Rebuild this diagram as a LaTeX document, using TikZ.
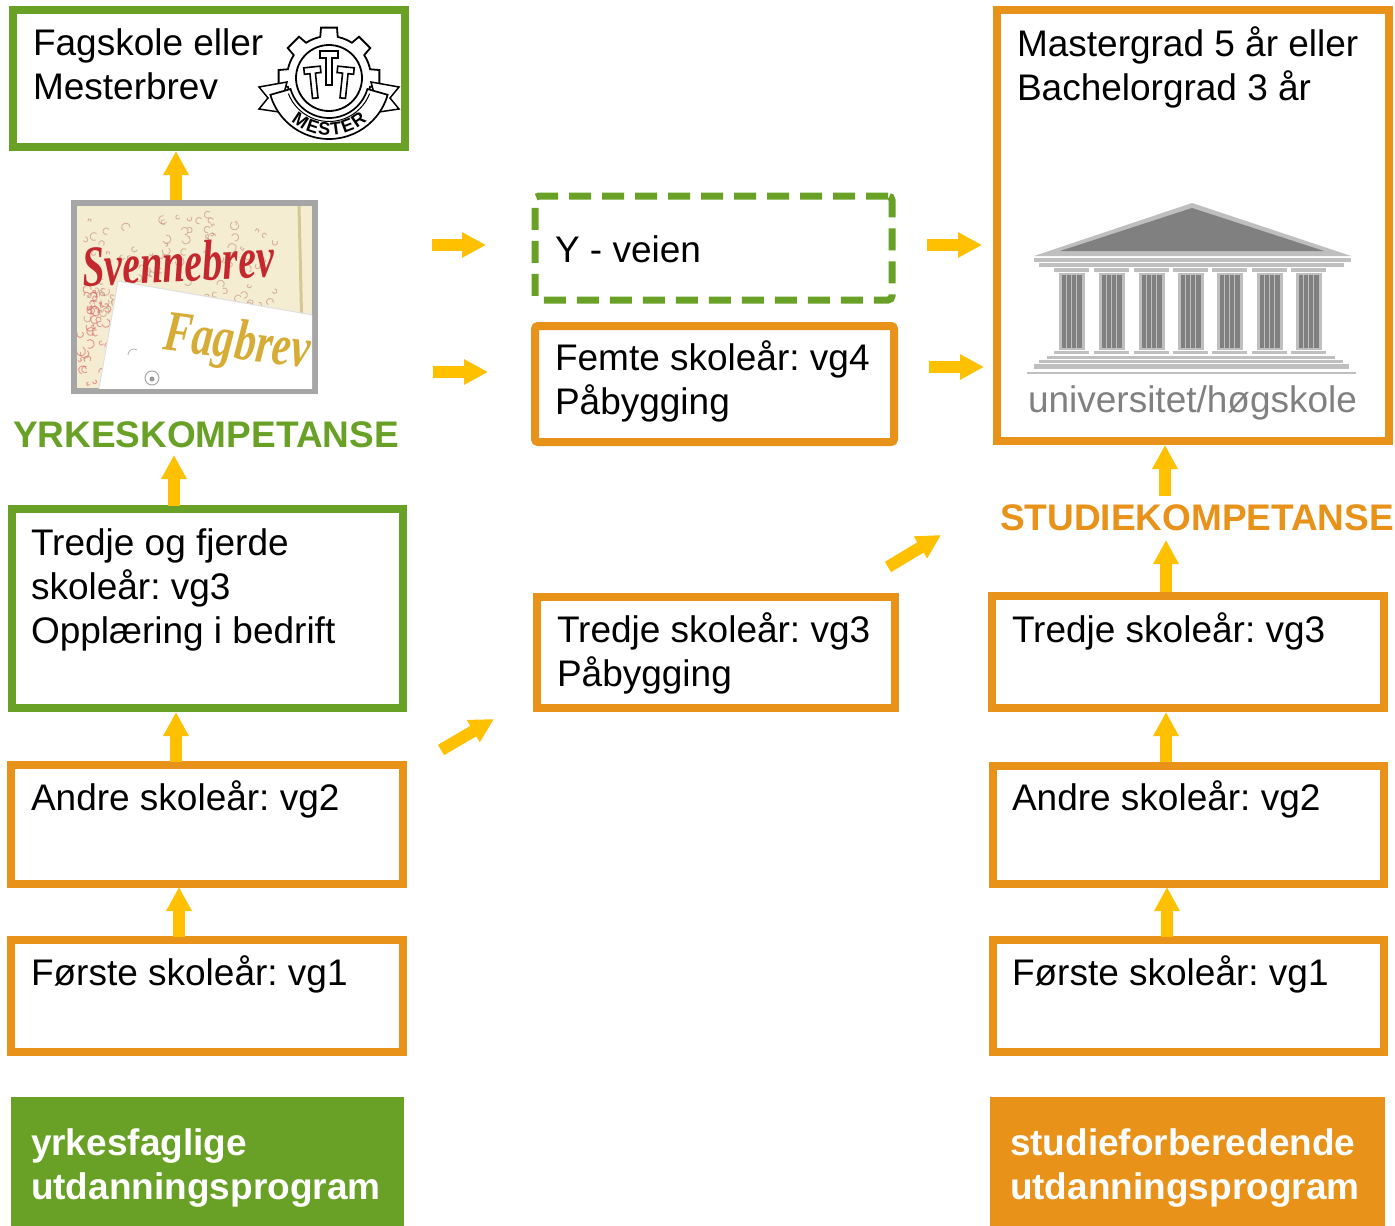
\documentclass[tikz,border=0pt]{standalone}
\usepackage{fontspec}
\setmainfont{Liberation Sans}
\newfontfamily\frakfont{Liberation Serif}
\usepackage{graphicx}
\usetikzlibrary{arrows.meta,decorations.text}
\definecolor{grn}{HTML}{68A126}
\definecolor{org}{HTML}{E8921A}
\definecolor{arrc}{HTML}{FFC000}
\definecolor{gryb}{HTML}{A6A6A6}
\definecolor{lgr}{HTML}{BFBFBF}
\definecolor{dgr}{HTML}{808080}
\definecolor{cream}{HTML}{F5EDD2}
\definecolor{svred}{HTML}{C4272C}
\definecolor{gold}{HTML}{D6AC34}
\definecolor{scroll}{HTML}{C08A7C}
\newcommand\mfont{\fontsize{18}{18}\selectfont\bfseries}
\newcommand\hammer{\draw[line width=1.6pt, fill=white] (-9,0) -- (9,0) -- (9,-7) -- (3,-7) -- (3,-34) -- (-3,-34) -- (-3,-7) -- (-9,-7) -- cycle;}
\frenchspacing
\begin{document}
\begin{tikzpicture}[x=1pt,y=-1pt,
  every node/.style={font=\fontsize{37}{44}\selectfont, inner sep=0pt, outer sep=0pt},
  gbox/.style={draw=grn, line width=8pt, anchor=north west, fill=white},
  obox/.style={draw=org, line width=8pt, anchor=north west, fill=white},
  txt/.style={anchor=base west, align=left},
  head/.style={anchor=base west, font=\fontsize{37}{44}\selectfont\bfseries},
  arr/.style={draw=arrc, line width=12pt, -{Triangle[length=24pt,width=24pt]}}]
\useasboundingbox (0,0) rectangle (1395,1226);
\fill[white] (0,0) rectangle (1395,1226);

% ---------- left column ----------
\node[gbox, minimum width=392pt, minimum height=137pt] (fag) at (13,10) {};
\node[txt] (fagT) at (33,99) {Fagskole eller\\Mesterbrev};

% Mester logo
\begin{scope}[shift={(329,78)}, y=1pt]
  \draw[line width=1.8pt, fill=white] (78:42)
    \foreach \a in {90,135,...,405} { -- (\a-9:51) -- (\a+9:51) -- (\a+12:42) arc[start angle=\a+12, end angle=\a+33, radius=42] } -- cycle;
  \draw[line width=1.8pt] (0,0) circle[radius=33];
  \begin{scope}[shift={(0,27)}] \hammer \end{scope}
  \begin{scope}[shift={(-17,11)}, rotate=6, scale=0.92] \hammer \end{scope}
  \begin{scope}[shift={(17,11)}, rotate=-6, scale=0.92] \hammer \end{scope}
  \draw[line width=1.5pt, fill=white] (-42,-4) -- (-70,-9) -- (-61,-20) -- (-70,-31) -- (-50,-34) -- cycle;
  \draw[line width=1.5pt, fill=white] (42,-4) -- (70,-9) -- (61,-20) -- (70,-31) -- (50,-34) -- cycle;
  \draw[line width=1.7pt, fill=white] (196:40) arc[start angle=196, end angle=344, radius=40] -- (344:61) arc[start angle=344, end angle=196, radius=61] -- cycle;
  \draw[line width=1pt] (201:43.5) arc[start angle=201, end angle=339, radius=43.5];
  \path[decorate, decoration={text along path, text align=center, raise=-6.5pt, text={|\mfont|MESTER}}] (198:51) arc[start angle=198, end angle=342, radius=51];
\end{scope}

% Svennebrev / Fagbrev picture
\node[draw=gryb, line width=6pt, anchor=north west, minimum width=241pt, minimum height=188pt] (sven) at (74,203) {};
\begin{scope}
  \clip (77,206) rectangle (312,388);
  \fill[cream] (77,206) rectangle (312,388);
  \draw[color={rgb,255:red,214;green,198;blue,150}, line width=3pt] (299,206) -- (302,335);
  \pgfmathsetseed{7}
  \foreach \i in {1,...,120}{
    \pgfmathsetmacro\xa{84+196*rnd}
    \pgfmathsetmacro\ya{216+110*rnd}
    \pgfmathsetmacro\ra{1.5+3*rnd}
    \pgfmathsetmacro\sa{360*rnd}
    \draw[scroll, line width=0.9pt, opacity=0.6] (\xa,\ya) arc[start angle=\sa, delta angle=250, radius=\ra];
  }
  \foreach \i in {1,...,40}{
    \pgfmathsetmacro\xa{80+30*rnd}
    \pgfmathsetmacro\ya{290+95*rnd}
    \pgfmathsetmacro\ra{1.5+3*rnd}
    \pgfmathsetmacro\sa{360*rnd}
    \draw[svred!70, line width=1pt, opacity=0.6] (\xa,\ya) arc[start angle=\sa, delta angle=250, radius=\ra];
  }
  \node[text=svred, rotate=3] (svT) at (178,262) {\resizebox{192pt}{40pt}{\frakfont\bfseries\itshape Svennebrev}};
  \fill[white] (118,281) -- (330,318) -- (330,400) -- (97,400) -- cycle;
  \draw[gray!25, line width=1pt] (118,281) -- (330,318);
  \draw[gray!25, line width=1pt] (118,281) -- (97,400);
  \node[text=gold, rotate=-7] (fgT) at (237,345) {\resizebox{146pt}{40pt}{\frakfont\bfseries\itshape Fagbrev}};
  \draw[gray!70, line width=1pt] (152,378) circle[radius=7];
  \fill[gray!80] (152,379) circle[radius=2.5];
  \draw[gray!60, line width=0.8pt] (128,355) arc[start angle=180, end angle=300, radius=6];
\end{scope}

\node[head, text=grn] (yrk) at (13,447) {YRKESKOMPETANSE};

\node[gbox, minimum width=391pt, minimum height=199pt] (tfj) at (12,509) {};
\node[txt] (tfjT) at (31,643) {Tredje og fjerde\\skoleår: vg3\\Opplæring i bedrift};

\node[obox, minimum width=392pt, minimum height=119pt] (andreL) at (11,765) {};
\node[txt] (andreLT) at (31,810) {Andre skoleår: vg2};

\node[obox, minimum width=392pt, minimum height=112pt] (forsteL) at (11,940) {};
\node[txt] (forsteLT) at (31,985) {Første skoleår: vg1};

\node[fill=grn, anchor=north west, minimum width=393pt, minimum height=129pt] (yrkB) at (11,1097) {};
\node[txt, text=white, font=\fontsize{37}{44}\selectfont\bfseries] (yrkBT) at (31,1199) {yrkesfaglige\\utdanningsprogram};

% ---------- middle column ----------
\node[draw=grn, line width=7pt, dash pattern=on 22pt off 11pt, rounded corners=4pt, anchor=north west, minimum width=357pt, minimum height=104pt] (yvei) at (535,196) {};
\node[txt] (yveiT) at (555,262) {Y - veien};

\node[obox, rounded corners=3pt, minimum width=359pt, minimum height=116pt] (femte) at (535,326) {};
\node[txt] (femteT) at (555,414) {Femte skoleår: vg4\\Påbygging};

\node[obox, minimum width=358pt, minimum height=111pt] (tredjeM) at (537,597) {};
\node[txt] (tredjeMT) at (557,686) {Tredje skoleår: vg3\\Påbygging};

% ---------- right column ----------
\node[obox, minimum width=392pt, minimum height=431pt] (master) at (997,10) {};
\node[txt] (masterT) at (1017,100) {Mastergrad 5 år eller\\Bachelorgrad 3 år};

% university building
\fill[lgr] (1034,256) -- (1192,203) -- (1351,256) -- cycle;
\fill[dgr] (1060,251) -- (1192,208) -- (1324,251) -- cycle;
\fill[lgr] (1034,258) rectangle (1351,261.5);
\fill[lgr] (1039,263) rectangle (1344,267);
\foreach \c in {1071.5,1111.5,1151.5,1190.5,1229.5,1269.5,1308.5}{
  \fill[lgr] (\c-17.5,268) rectangle (\c+17.5,272);
  \fill[lgr] (\c-13,273) rectangle (\c+13,350);
  \fill[dgr] (\c-10,275) rectangle (\c+10,348);
  \draw[lgr, line width=1.3pt] (\c-5,275) -- (\c-5,348) (\c,275) -- (\c,348) (\c+5,275) -- (\c+5,348);
  \fill[lgr] (\c-17.5,351) rectangle (\c+17.5,354);
}
\fill[lgr] (1047,356) rectangle (1335,358.5);
\fill[lgr] (1039,359.5) rectangle (1343,363);
\fill[lgr] (1034,364) rectangle (1349,369);
\fill[lgr] (1027,372) rectangle (1356,374);
\node[txt, text=dgr] (uniT) at (1028,412) {universitet/høgskole};

\node[head, text=org] (stud) at (1000,530) {STUDIEKOMPETANSE};

\node[obox, minimum width=392pt, minimum height=112pt] (tredjeR) at (992,596) {};
\node[txt] (tredjeRT) at (1012,642) {Tredje skoleår: vg3};

\node[obox, minimum width=391pt, minimum height=118pt] (andreR) at (993,766) {};
\node[txt] (andreRT) at (1012,810) {Andre skoleår: vg2};

\node[obox, minimum width=391pt, minimum height=112pt] (forsteR) at (993,940) {};
\node[txt] (forsteRT) at (1012,985) {Første skoleår: vg1};

\node[fill=org, anchor=north west, minimum width=395pt, minimum height=129pt] (studB) at (990,1097) {};
\node[txt, text=white, font=\fontsize{37}{44}\selectfont\bfseries] (studBT) at (1010,1199) {studieforberedende\\utdanningsprogram};

% ---------- arrows ----------
\coordinate (v1s) at (176,200); \coordinate (v1e) at (176,151);
\coordinate (v2s) at (174,506); \coordinate (v2e) at (174,455);
\coordinate (v3s) at (176,762); \coordinate (v3e) at (176,712);
\coordinate (v4s) at (179,937); \coordinate (v4e) at (179,887);
\coordinate (v5s) at (1165,496); \coordinate (v5e) at (1165,445);
\coordinate (v6s) at (1166,592); \coordinate (v6e) at (1166,540);
\coordinate (v7s) at (1166,762); \coordinate (v7e) at (1166,712);
\coordinate (v8s) at (1167,937); \coordinate (v8e) at (1167,887);
\coordinate (h1s) at (432,245); \coordinate (h1e) at (486,245);
\coordinate (h2s) at (433,372); \coordinate (h2e) at (488,372);
\coordinate (h3s) at (927,245); \coordinate (h3e) at (982,245);
\coordinate (h4s) at (929,367); \coordinate (h4e) at (984,367);
\coordinate (d1s) at (441,750); \coordinate (d1e) at (494,719);
\coordinate (d2s) at (888,567); \coordinate (d2e) at (941,535);
\foreach \p in {v1,v2,v3,v4,v5,v6,v7,v8,h1,h2,h3,h4,d1,d2}{
  \draw[arr] (\p s) -- (\p e);
}
\end{tikzpicture}
\end{document}
